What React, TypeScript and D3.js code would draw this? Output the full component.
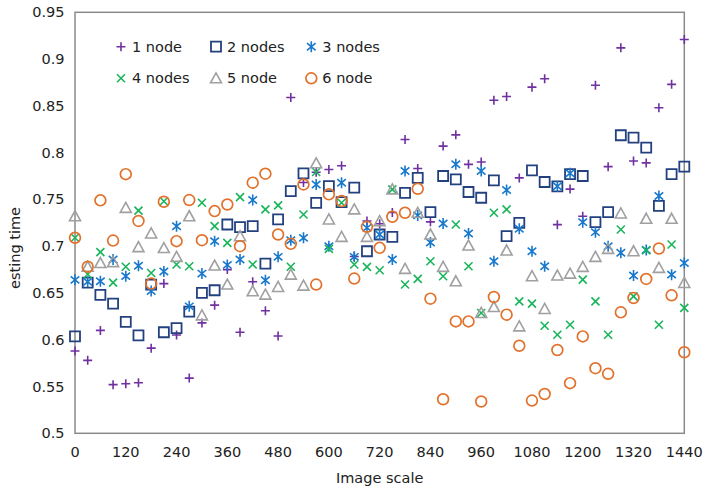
import React from "react";
import * as d3 from "d3";

const xValues = [0, 30, 60, 90, 120, 150, 180, 210, 240, 270, 300, 330, 360, 390, 420, 450, 480, 510, 540, 570, 600, 630, 660, 690, 720, 750, 780, 810, 840, 870, 900, 930, 960, 990, 1020, 1050, 1080, 1110, 1140, 1170, 1200, 1230, 1260, 1290, 1320, 1350, 1380, 1410, 1440];

const node1 = [0.588, 0.578, 0.610, 0.552, 0.553, 0.554, 0.591, 0.660, 0.605, 0.559, 0.618, 0.637, 0.675, 0.608, 0.662, 0.631, 0.604, 0.859, 0.768, 0.779, 0.782, 0.786, 0.689, 0.727, 0.724, 0.736, 0.814, 0.783, 0.726, 0.807, 0.819, 0.7875, 0.790, 0.856, 0.860, 0.773, 0.870, 0.879, 0.723, 0.761, 0.732, 0.872, 0.785, 0.912, 0.791, 0.789, 0.848, 0.873, 0.921];
const node2 = [0.6036, 0.661, 0.648, 0.6386, 0.619, 0.6046, 0.659, 0.608, 0.6125, 0.630, 0.650, 0.6529, 0.7232, 0.7204, 0.7214, 0.6814, 0.7286, 0.7589, 0.7779, 0.7464, 0.7643, 0.7471, 0.7625, 0.6946, 0.7125, 0.710, 0.757, 0.773, 0.7364, 0.775, 0.7714, 0.7579, 0.7518, 0.7704, 0.7107, 0.725, 0.781, 0.7686, 0.764, 0.777, 0.775, 0.7257, 0.7364, 0.8186, 0.816, 0.8054, 0.743, 0.777, 0.785];
const node3 = [0.664, 0.662, 0.6625, 0.6857, 0.668, 0.679, 0.652, 0.673, 0.7214, 0.6357, 0.6707, 0.7054, 0.680, 0.6857, 0.7493, 0.6636, 0.6886, 0.7064, 0.7089, 0.766, 0.700, 0.7679, 0.6886, 0.7196, 0.7125, 0.6857, 0.7804, 0.7329, 0.704, 0.7243, 0.7875, 0.7136, 0.7804, 0.6839, 0.760, 0.7186, 0.6946, 0.6786, 0.764, 0.7779, 0.7257, 0.715, 0.700, 0.6929, 0.6686, 0.696, 0.7536, 0.6696, 0.6821];
const node4 = [0.709, 0.670, 0.6936, 0.661, 0.678, 0.738, 0.6714, 0.748, 0.6804, 0.6786, 0.7464, 0.7214, 0.7036, 0.7525, 0.6804, 0.7393, 0.7436, 0.678, 0.7339, 0.7793, 0.6971, 0.7464, 0.6804, 0.6779, 0.6743, 0.7607, 0.659, 0.665, 0.6839, 0.6679, 0.7232, 0.6786, 0.6286, 0.7357, 0.7393, 0.641, 0.6386, 0.615, 0.6054, 0.616, 0.6643, 0.641, 0.6054, 0.7179, 0.6464, 0.6957, 0.616, 0.7018, 0.634];
const node5 = [0.732, 0.678, 0.682, 0.683, 0.741, 0.699, 0.7136, 0.698, 0.6886, 0.732, 0.626, 0.6793, 0.659, 0.7107, 0.6518, 0.6482, 0.6564, 0.6696, 0.6579, 0.7886, 0.7286, 0.710, 0.7393, 0.710, 0.7268, 0.7607, 0.6757, 0.7357, 0.7125, 0.6779, 0.6625, 0.7007, 0.6286, 0.635, 0.6954, 0.6143, 0.6679, 0.6329, 0.6686, 0.6707, 0.6779, 0.6886, 0.6971, 0.735, 0.6946, 0.7293, 0.6768, 0.7293, 0.6607];
const node6 = [0.709, 0.678, 0.749, 0.706, 0.777, 0.727, 0.660, 0.7475, 0.7054, 0.7493, 0.7064, 0.7375, 0.7446, 0.700, 0.7679, 0.7775, 0.7125, 0.7025, 0.766, 0.659, 0.7554, 0.7482, 0.6654, 0.7207, 0.6982, 0.7314, 0.7357, 0.7614, 0.6439, 0.5364, 0.6196, 0.6196, 0.534, 0.6457, 0.6268, 0.5936, 0.535, 0.542, 0.589, 0.5536, 0.6036, 0.5696, 0.5636, 0.6293, 0.6446, 0.665, 0.6975, 0.6475, 0.5866];

const seriesNames = ["1 node", "2 nodes", "3 nodes", "4 nodes", "5 node", "6 node"];
const seriesValues = [node1, node2, node3, node4, node5, node6];

const xTicks = [0, 120, 240, 360, 480, 600, 720, 840, 960, 1080, 1200, 1320, 1440];
const yTicks = [0.5, 0.55, 0.6, 0.65, 0.7, 0.75, 0.8, 0.85, 0.9, 0.95];
const yTickLabels = ["0.5", "0.55", "0.6", "0.65", "0.7", "0.75", "0.8", "0.85", "0.9", "0.95"];
const xTitle = "Image scale";
const yTitle = "esting time";

const W = 705;
const H = 487;
const plot = { left: 75, right: 684.3, top: 12.3, bottom: 433.3 };
const FONT = "'DejaVu Sans', Verdana, sans-serif";

type MarkerStyle = { kind: string; color: string };
const markers: MarkerStyle[] = [
  { kind: "plus", color: "#7030A0" },
  { kind: "square", color: "#23407F" },
  { kind: "star", color: "#1878CC" },
  { kind: "x", color: "#18B55A" },
  { kind: "triangle", color: "#A0A0A0" },
  { kind: "circle", color: "#E2712B" },
];

function Marker({ kind, color, x, y }: { kind: string; color: string; x: number; y: number }) {
  const t = `translate(${x},${y})`;
  const common = { fill: "none", stroke: color, transform: t } as any;
  switch (kind) {
    case "plus":
      return <path d="M-4.5,0H4.5M0,-4.5V4.5" strokeWidth={1.6} {...common} />;
    case "square":
      return <path d="M-5,-5H5V5H-5Z" strokeWidth={1.8} {...common} />;
    case "star":
      return <path d="M0,-5.5V5.5M-4.3,-3.6L4.3,3.6M-4.3,3.6L4.3,-3.6" strokeWidth={1.6} {...common} />;
    case "x":
      return <path d="M-4,-4L4,4M-4,4L4,-4" strokeWidth={1.6} {...common} />;
    case "triangle":
      return <path d="M0,-5.5L5.5,4.5H-5.5Z" strokeWidth={1.6} strokeLinejoin="miter" {...common} />;
    default:
      return <circle r={5.4} strokeWidth={1.7} {...common} />;
  }
}

export default function App() {
  const x = d3.scaleLinear().domain([0, 1440]).range([plot.left, plot.right]);
  const y = d3.scaleLinear().domain([0.5, 0.95]).range([plot.bottom, plot.top]);

  const legendPos = [
    { mx: 121, my: 46.7 },
    { mx: 216, my: 46.7 },
    { mx: 311.3, my: 46.7 },
    { mx: 121, my: 78.3 },
    { mx: 216, my: 78.3 },
    { mx: 311.3, my: 78.3 },
  ];

  return (
    <div style={{ position: "absolute", left: 0, top: 0, width: W, height: H, background: "#fff" }}>
      <svg width={W} height={H} style={{ display: "block" }} fontFamily={FONT}>
        <rect x={0} y={0} width={W} height={H} fill="#fff" />
        <rect
          x={plot.left}
          y={plot.top}
          width={plot.right - plot.left}
          height={plot.bottom - plot.top}
          fill="none"
          stroke="#8a8a8a"
          strokeWidth={1.5}
        />
        {yTicks.map((t, i) => (
          <text key={"yt" + i} x={64.5} y={y(t)} textAnchor="end" dominantBaseline="central" fontSize={14.5} fill="#222">
            {yTickLabels[i]}
          </text>
        ))}
        {xTicks.map((t, i) => (
          <text key={"xt" + i} x={x(t)} y={452} textAnchor="middle" dominantBaseline="central" fontSize={14.5} fill="#222">
            {String(t)}
          </text>
        ))}
        <text x={(plot.left + plot.right) / 2} y={478} textAnchor="middle" dominantBaseline="central" fontSize={14.5} fill="#222">
          {xTitle}
        </text>
        <text
          transform={`translate(15,248) rotate(-90)`}
          textAnchor="middle"
          dominantBaseline="central"
          fontSize={14.5}
          fill="#222"
        >
          {yTitle}
        </text>
        {seriesValues.map((vals, si) => (
          <g key={"s" + si}>
            {vals.map((v, i) => (
              <Marker key={i} kind={markers[si].kind} color={markers[si].color} x={x(xValues[i])} y={y(v)} />
            ))}
          </g>
        ))}
        {seriesNames.map((name, si) => (
          <g key={"lg" + si}>
            <Marker kind={markers[si].kind} color={markers[si].color} x={legendPos[si].mx} y={legendPos[si].my} />
            <text x={legendPos[si].mx + 11} y={legendPos[si].my} dominantBaseline="central" fontSize={14.5} fill="#222">
              {name}
            </text>
          </g>
        ))}
      </svg>
    </div>
  );
}
